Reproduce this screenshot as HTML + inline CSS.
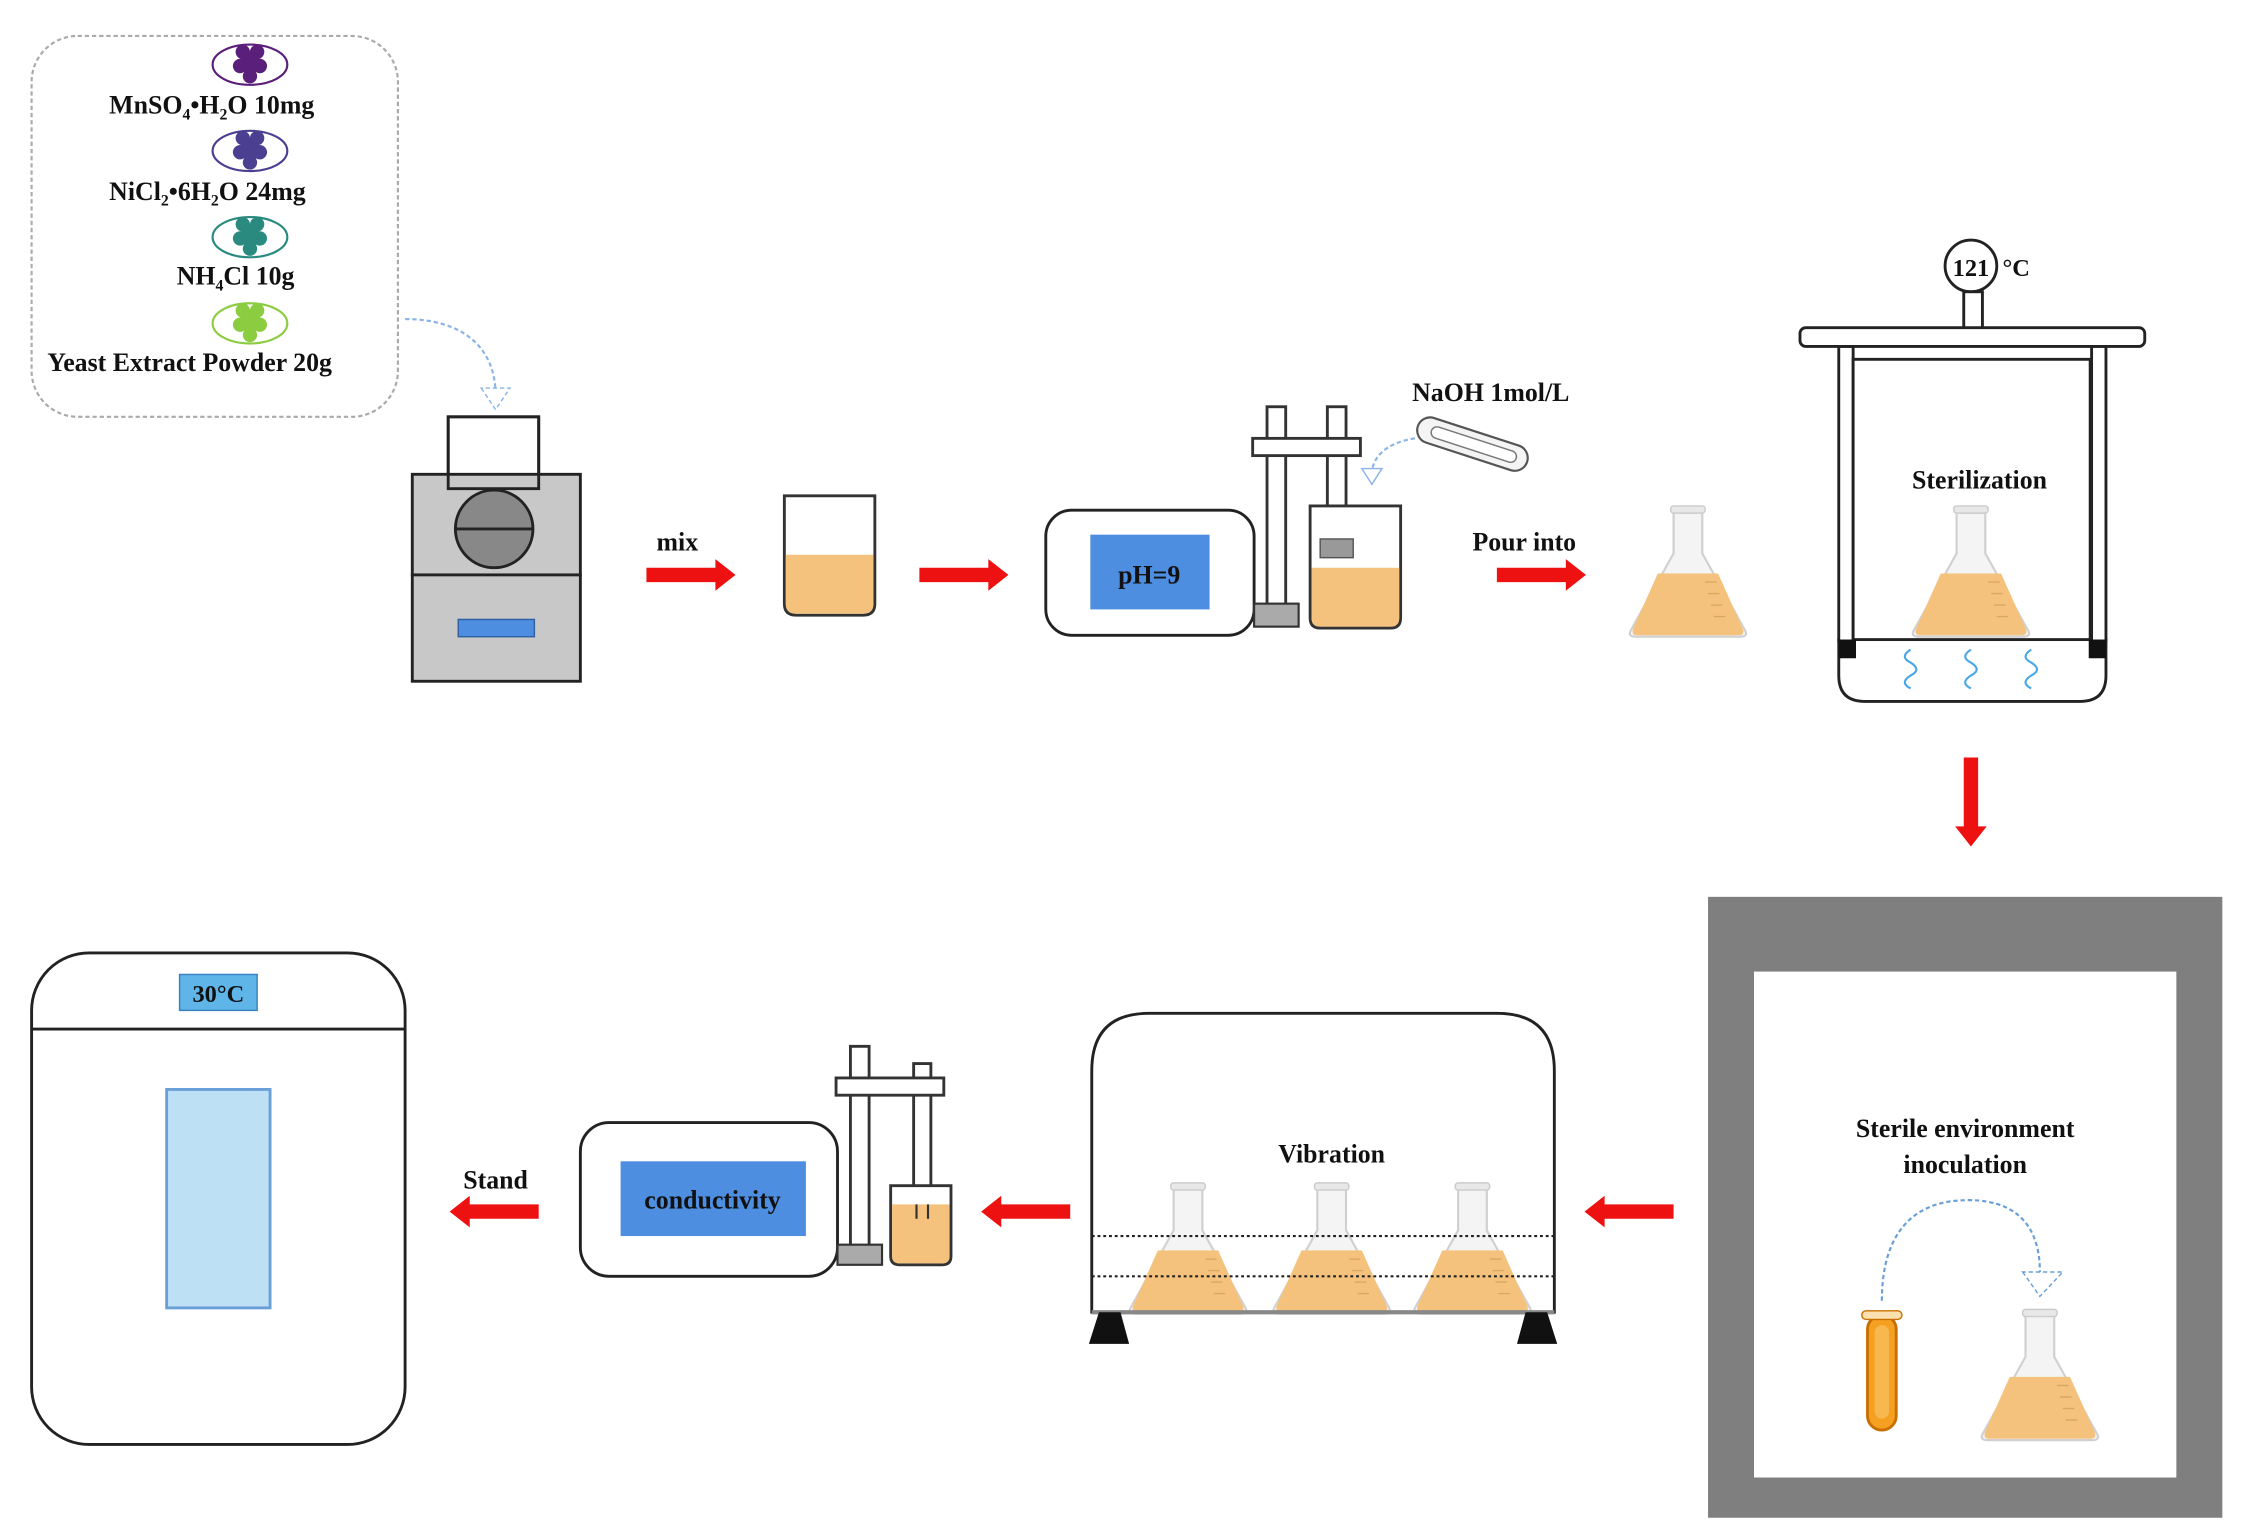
<!DOCTYPE html>
<html><head><meta charset="utf-8"><style>
html,body{margin:0;padding:0;background:#fff;}
svg{display:block;}
text{font-family:"Liberation Serif",serif;font-weight:bold;fill:#111;}
</style></head><body>
<svg width="2241" height="1535" viewBox="0 0 1560 1068" preserveAspectRatio="none" xmlns="http://www.w3.org/2000/svg">
<defs>
  <g id="flask">
    <path d="M-10,0 L10,0 L10,30 L40,84 Q42,88 36,88 L-36,88 Q-42,88 -40,84 L-10,30 Z" fill="#f4f4f4" stroke="#d0d0d0" stroke-width="1.5"/>
    <path d="M-21,44 L21,44 L38,82 Q40,87 35,87 L-35,87 Q-40,87 -38,82 Z" fill="#f5c27d"/>
    <rect x="-12" y="-3" width="24" height="5" rx="2" fill="#e8e8e8" stroke="#ccc"/>
    <path d="M12,50 h8 M14,58 h8 M16,66 h8 M18,74 h8" stroke="#d9a860" stroke-width="1"/>
  </g>
  <g id="arrowR"><polygon points="0,-5 48,-5 48,-11 62,0 48,11 48,5 0,5" fill="#ee1111"/></g>
  <g id="clover"><path d="M0,-9 a5,5 0 1 1 6,5 a5,5 0 1 1 -2,9 a5,5 0 1 1 -8,0 a5,5 0 1 1 -2,-9 a5,5 0 1 1 6,-5 Z M0,4 l0,9" /></g>
</defs>

<!-- ingredient box -->
<rect x="22" y="25" width="255" height="265" rx="32" fill="#fff" stroke="#aaa" stroke-width="1.5" stroke-dasharray="3,2"/>
<ellipse cx="174" cy="45" rx="26" ry="14" fill="#fff" stroke="#5a1f7a" stroke-width="1.5"/>
<use href="#clover" x="174" y="45" fill="#5a1f7a"/>
<ellipse cx="174" cy="105" rx="26" ry="14" fill="#fff" stroke="#4a3f90" stroke-width="1.5"/>
<use href="#clover" x="174" y="105" fill="#4a3f90"/>
<ellipse cx="174" cy="165" rx="26" ry="14" fill="#fff" stroke="#2a8a80" stroke-width="1.5"/>
<use href="#clover" x="174" y="165" fill="#2a8a80"/>
<ellipse cx="174" cy="225" rx="26" ry="14" fill="#fff" stroke="#8ccc40" stroke-width="1.5"/>
<use href="#clover" x="174" y="225" fill="#8ccc40"/>
<text x="76" y="79" font-size="18">MnSO<tspan font-size="11" dy="4">4</tspan><tspan dy="-4">•H</tspan><tspan font-size="11" dy="4">2</tspan><tspan dy="-4">O  10mg</tspan></text>
<text x="76" y="139" font-size="18">NiCl<tspan font-size="11" dy="4">2</tspan><tspan dy="-4">•6H</tspan><tspan font-size="11" dy="4">2</tspan><tspan dy="-4">O   24mg</tspan></text>
<text x="123" y="198" font-size="18">NH<tspan font-size="11" dy="4">4</tspan><tspan dy="-4">Cl   10g</tspan></text>
<text x="33" y="258" font-size="18">Yeast Extract Powder 20g</text>
<path d="M282,222 C320,222 345,240 345,275" fill="none" stroke="#8ab4e8" stroke-width="1.5" stroke-dasharray="3,2"/>
<polygon points="335,270 345,285 355,270" fill="#fff" stroke="#8ab4e8" stroke-dasharray="3,2"/>

<!-- balance -->
<rect x="312" y="290" width="63" height="50" fill="#fff" stroke="#222" stroke-width="2"/>
<rect x="287" y="330" width="117" height="70" fill="#c8c8c8" stroke="#222" stroke-width="2"/>
<rect x="312" y="290" width="63" height="50" fill="none" stroke="#222" stroke-width="2"/>
<circle cx="344" cy="368" r="27" fill="#888" stroke="#222" stroke-width="2"/>
<line x1="317" y1="368" x2="371" y2="368" stroke="#222" stroke-width="2"/>
<rect x="287" y="400" width="117" height="74" fill="#c8c8c8" stroke="#222" stroke-width="2"/>
<rect x="319" y="431" width="53" height="12" fill="#4d8ee0" stroke="#3060a0"/>

<text x="457" y="383" font-size="18">mix</text>
<use href="#arrowR" x="450" y="400"/>

<!-- beaker -->
<path d="M546,345 L609,345 L609,420 Q609,428 601,428 L554,428 Q546,428 546,420 Z" fill="#fff" stroke="#333" stroke-width="2"/>
<path d="M547,386 L608,386 L608,420 Q608,427 601,427 L554,427 Q547,427 547,420 Z" fill="#f5c27d"/>
<use href="#arrowR" x="640" y="400"/>

<!-- pH meter -->
<rect x="728" y="355" width="145" height="87" rx="18" fill="#fff" stroke="#222" stroke-width="2"/>
<rect x="759" y="372" width="83" height="52" fill="#4d8ee0"/>
<text x="800" y="406" font-size="18" text-anchor="middle">pH=9</text>
<rect x="882" y="283" width="13" height="140" fill="#fff" stroke="#333" stroke-width="2"/>
<rect x="924" y="283" width="13" height="100" fill="#fff" stroke="#333" stroke-width="2"/>
<rect x="872" y="305" width="75" height="12" fill="#fff" stroke="#333" stroke-width="2"/>
<rect x="873" y="420" width="31" height="16" fill="#aaa" stroke="#333" stroke-width="1.5"/>
<path d="M912,352 L975,352 L975,430 Q975,437 968,437 L919,437 Q912,437 912,430 Z" fill="#fff" stroke="#333" stroke-width="2"/>
<path d="M913,395 L974,395 L974,430 Q974,436 968,436 L919,436 Q913,436 913,430 Z" fill="#f5c27d"/>
<rect x="919" y="375" width="23" height="13" fill="#999" stroke="#555"/>
<text x="983" y="279" font-size="18">NaOH  1mol/L</text>
<g transform="translate(1025,309) rotate(18)">
  <rect x="-40" y="-9" width="80" height="18" rx="9" fill="#f4f4f4" stroke="#555" stroke-width="1.5"/>
  <rect x="-30" y="-4" width="62" height="8" rx="4" fill="#fff" stroke="#777"/>
</g>
<path d="M985,305 C965,308 955,318 955,330" fill="none" stroke="#8ab4e8" stroke-width="1.5" stroke-dasharray="3,2"/>
<polygon points="948,326 955,337 962,326" fill="#fff" stroke="#8ab4e8"/>

<text x="1025" y="383" font-size="18">Pour into</text>
<use href="#arrowR" x="1042" y="400"/>
<use href="#flask" x="1175" y="355"/>

<!-- autoclave -->
<circle cx="1372" cy="185" r="18" fill="#fff" stroke="#222" stroke-width="2"/>
<text x="1372" y="192" font-size="17" text-anchor="middle">121</text>
<text x="1394" y="192" font-size="17">°C</text>
<rect x="1367" y="203" width="13" height="26" fill="#fff" stroke="#222" stroke-width="2"/>
<path d="M1280,445 L1466,445 L1466,470 Q1466,488 1448,488 L1298,488 Q1280,488 1280,470 Z" fill="#fff" stroke="#222" stroke-width="2"/>
<rect x="1280" y="241" width="10" height="205" fill="#fff" stroke="#222" stroke-width="2"/>
<rect x="1456" y="241" width="10" height="205" fill="#fff" stroke="#222" stroke-width="2"/>
<rect x="1290" y="250" width="165" height="195" fill="#fff" stroke="#222" stroke-width="2"/>
<rect x="1253" y="228" width="240" height="13" rx="4" fill="#fff" stroke="#222" stroke-width="2"/>
<text x="1378" y="340" font-size="18" text-anchor="middle">Sterilization</text>
<use href="#flask" x="1372" y="355"/>
<rect x="1280" y="445" width="12" height="13" fill="#111"/>
<rect x="1454" y="445" width="12" height="13" fill="#111"/>
<g fill="none" stroke="#4aa8e8" stroke-width="1.5">
<path d="M1330,452 q-8,5 0,9 q8,5 0,9 q-8,5 0,9"/>
<path d="M1372,452 q-8,5 0,9 q8,5 0,9 q-8,5 0,9"/>
<path d="M1414,452 q-8,5 0,9 q8,5 0,9 q-8,5 0,9"/>
</g>
<use href="#arrowR" transform="translate(1372,527) rotate(90)"/>

<!-- sterile box -->
<rect x="1189" y="624" width="358" height="432" fill="#7f7f7f"/>
<rect x="1221" y="676" width="294" height="352" fill="#fff"/>
<text x="1368" y="791" font-size="18" text-anchor="middle">Sterile environment</text>
<text x="1368" y="816" font-size="18" text-anchor="middle">inoculation</text>
<path d="M1310,905 C1310,860 1330,835 1370,835 C1410,835 1420,860 1420,885" fill="none" stroke="#6a9fd8" stroke-width="1.5" stroke-dasharray="3,2"/>
<polygon points="1408,885 1420,902 1436,885" fill="#fff" stroke="#6a9fd8" stroke-dasharray="3,2"/>
<rect x="1300" y="915" width="20" height="80" rx="10" fill="#f5a020" stroke="#c77000" stroke-width="2"/>
<rect x="1305" y="922" width="10" height="65" rx="5" fill="#f7b850"/>
<rect x="1296" y="912" width="28" height="6" rx="3" fill="#fde0b0" stroke="#c77000"/>
<use href="#flask" x="1420" y="914"/>

<use href="#arrowR" transform="translate(1165,843) rotate(180)"/>

<!-- shaker -->
<path d="M760,913 L760,745 Q760,705 800,705 L1042,705 Q1082,705 1082,745 L1082,913 Z" fill="#fff" stroke="#222" stroke-width="2"/>
<text x="927" y="809" font-size="18" text-anchor="middle">Vibration</text>
<use href="#flask" x="827" y="826"/>
<use href="#flask" x="927" y="826"/>
<use href="#flask" x="1025" y="826"/>
<line x1="760" y1="860" x2="1082" y2="860" stroke="#222" stroke-width="1.5" stroke-dasharray="2,2"/>
<line x1="760" y1="888" x2="1082" y2="888" stroke="#222" stroke-width="1.5" stroke-dasharray="2,2"/>
<line x1="760" y1="913" x2="1082" y2="913" stroke="#888" stroke-width="3"/>
<polygon points="765,913 780,913 786,935 758,935" fill="#111"/>
<polygon points="1062,913 1077,913 1084,935 1056,935" fill="#111"/>

<use href="#arrowR" transform="translate(745,843) rotate(180)"/>

<!-- conductivity -->
<rect x="404" y="781" width="179" height="107" rx="20" fill="#fff" stroke="#222" stroke-width="2"/>
<rect x="432" y="808" width="129" height="52" fill="#4d8ee0"/>
<text x="496" y="841" font-size="18" text-anchor="middle">conductivity</text>
<rect x="592" y="728" width="13" height="140" fill="#fff" stroke="#333" stroke-width="2"/>
<rect x="636" y="740" width="12" height="100" fill="#fff" stroke="#333" stroke-width="2"/>
<rect x="582" y="750" width="75" height="12" fill="#fff" stroke="#333" stroke-width="2"/>
<rect x="583" y="866" width="31" height="14" fill="#aaa" stroke="#333" stroke-width="1.5"/>
<path d="M620,825 L662,825 L662,874 Q662,880 656,880 L626,880 Q620,880 620,874 Z" fill="#fff" stroke="#333" stroke-width="2"/>
<path d="M621,838 L661,838 L661,874 Q661,879 656,879 L626,879 Q621,879 621,874 Z" fill="#f5c27d"/>
<line x1="638" y1="838" x2="638" y2="848" stroke="#333" stroke-width="1.5"/>
<line x1="646" y1="838" x2="646" y2="848" stroke="#333" stroke-width="1.5"/>

<text x="345" y="827" font-size="18" text-anchor="middle">Stand</text>
<use href="#arrowR" transform="translate(375,843) rotate(180)"/>

<!-- incubator -->
<rect x="22" y="663" width="260" height="342" rx="40" fill="#fff" stroke="#222" stroke-width="2"/>
<line x1="22" y1="716" x2="282" y2="716" stroke="#222" stroke-width="2"/>
<rect x="125" y="678" width="54" height="25" fill="#5fb4e8" stroke="#3a80c0"/>
<text x="152" y="697" font-size="17" text-anchor="middle">30°C</text>
<rect x="116" y="758" width="72" height="152" fill="#bde0f5" stroke="#6a9fd8" stroke-width="2"/>
</svg>
</body></html>
